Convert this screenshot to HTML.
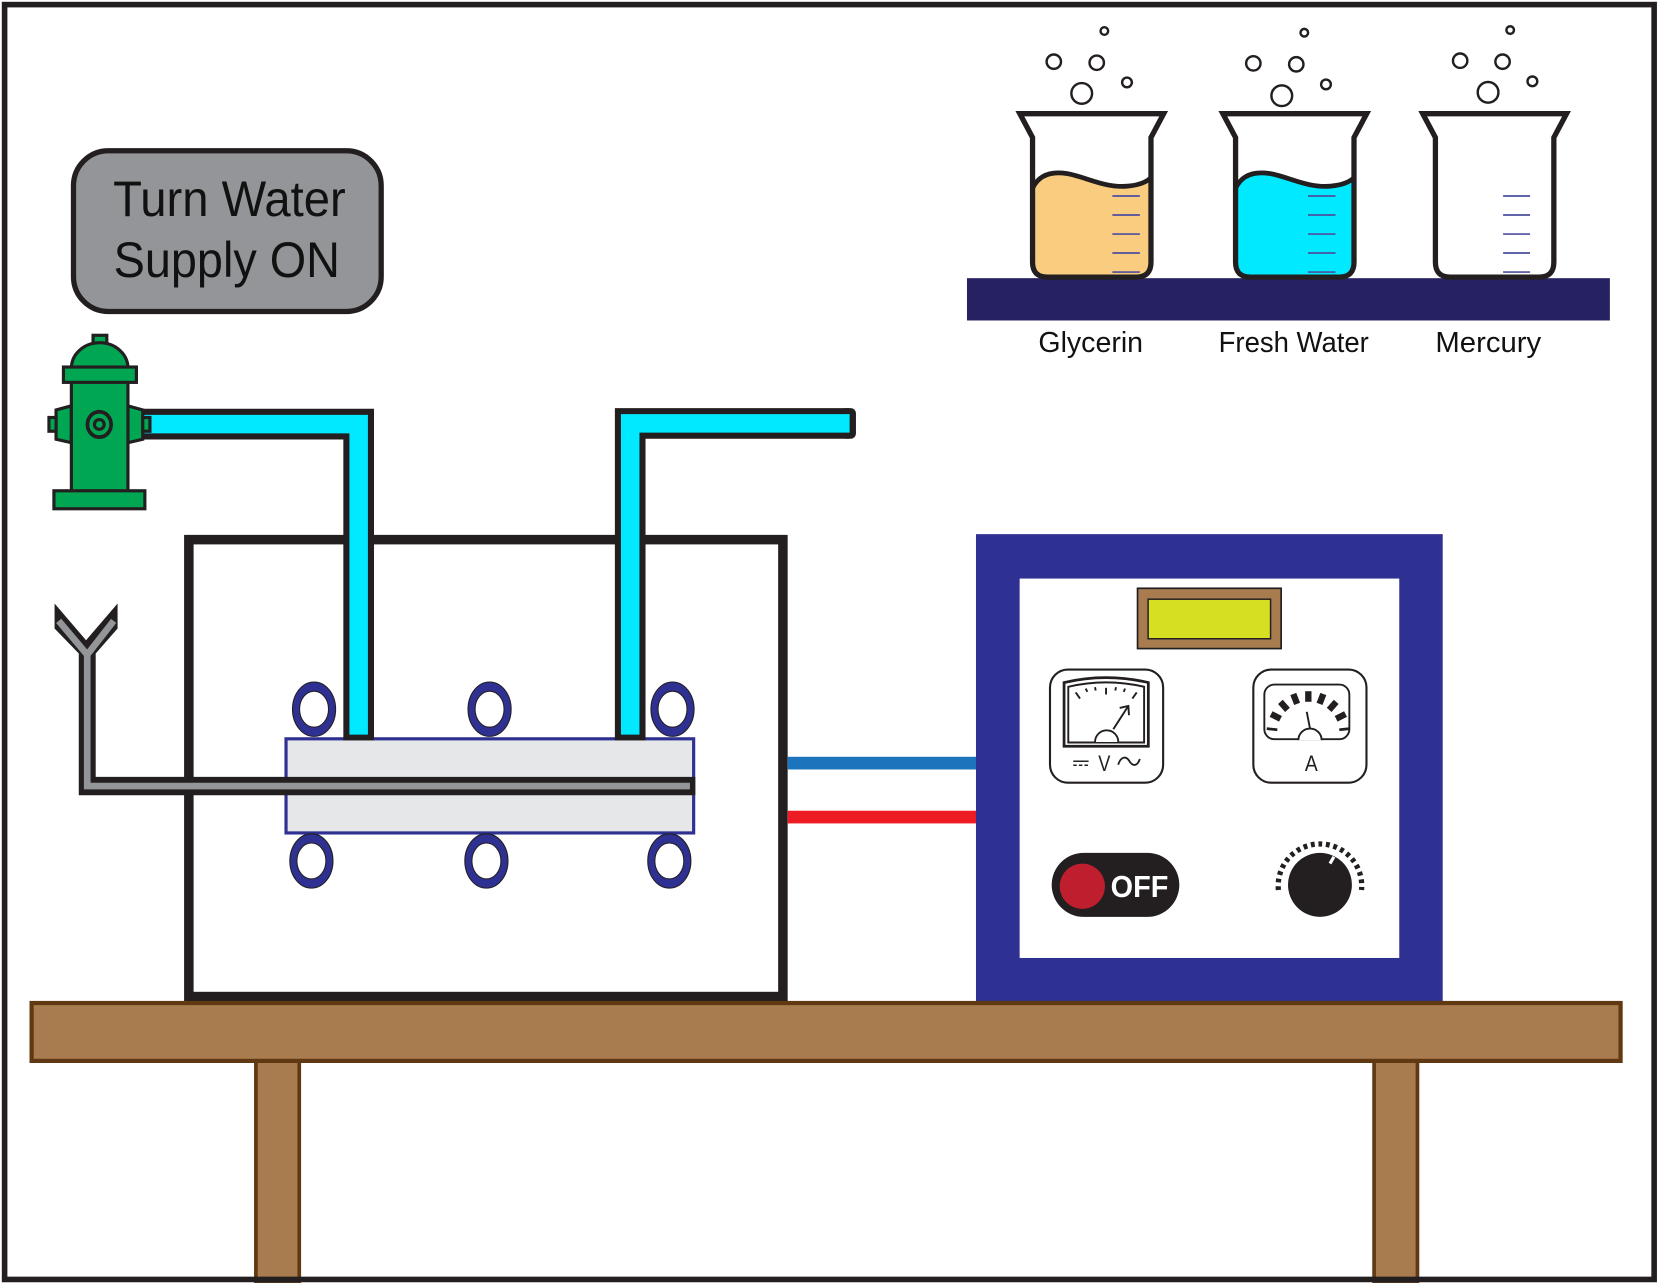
<!DOCTYPE html>
<html><head><meta charset="utf-8">
<style>
html,body{margin:0;padding:0;background:#fff;}
svg{display:block;}
text{font-family:"Liberation Sans",Arial,sans-serif;}
</style></head>
<body>
<svg width="1658" height="1283" viewBox="0 0 1568 1213" preserveAspectRatio="none" xmlns="http://www.w3.org/2000/svg">
<rect x="0" y="0" width="1568" height="1213" fill="#fff"/>

<!-- Turn Water Supply ON box -->
<rect x="69.5" y="142.5" width="291" height="152" rx="33" fill="#939598" stroke="#231f20" stroke-width="5"/>
<text x="107" y="204" font-size="47" fill="#111" textLength="220" lengthAdjust="spacingAndGlyphs">Turn Water</text>
<text x="107.5" y="262" font-size="47" fill="#111" textLength="214" lengthAdjust="spacingAndGlyphs">Supply ON</text>

<!-- Beakers shelf -->
<rect x="914.5" y="263" width="608" height="40" fill="#262262"/>

<!-- Beaker 1 -->
<g>
  <path d="M964.5,107.5 L1100.5,107.5 L1088.5,130 L1088.5,248 Q1088.5,262 1074.5,262 L990.5,262 Q976.5,262 976.5,248 L976.5,130 Z" fill="#fff"/>
  <path d="M976.5,178 C982.5,165 994.5,162 1008.5,164 C1026.5,167 1044.5,178 1066.5,176 C1076.5,175 1084.5,172 1088.5,168 L1088.5,248 Q1088.5,262 1074.5,262 L990.5,262 Q976.5,262 976.5,248 Z" fill="#f9cc7f"/>
  <path d="M976.5,178 C982.5,165 994.5,162 1008.5,164 C1026.5,167 1044.5,178 1066.5,176 C1076.5,175 1084.5,172 1088.5,168" fill="none" stroke="#231f20" stroke-width="4.5"/>
  <path d="M964.5,107.5 L1100.5,107.5 L1088.5,130 L1088.5,248 Q1088.5,262 1074.5,262 L990.5,262 Q976.5,262 976.5,248 L976.5,130 Z" fill="none" stroke="#231f20" stroke-width="5"/>
</g>
<!-- Beaker 2 -->
<g transform="translate(192,0)">
  <path d="M964.5,107.5 L1100.5,107.5 L1088.5,130 L1088.5,248 Q1088.5,262 1074.5,262 L990.5,262 Q976.5,262 976.5,248 L976.5,130 Z" fill="#fff"/>
  <path d="M976.5,178 C982.5,165 994.5,162 1008.5,164 C1026.5,167 1044.5,178 1066.5,176 C1076.5,175 1084.5,172 1088.5,168 L1088.5,248 Q1088.5,262 1074.5,262 L990.5,262 Q976.5,262 976.5,248 Z" fill="#00e9ff"/>
  <path d="M976.5,178 C982.5,165 994.5,162 1008.5,164 C1026.5,167 1044.5,178 1066.5,176 C1076.5,175 1084.5,172 1088.5,168" fill="none" stroke="#231f20" stroke-width="4.5"/>
  <path d="M964.5,107.5 L1100.5,107.5 L1088.5,130 L1088.5,248 Q1088.5,262 1074.5,262 L990.5,262 Q976.5,262 976.5,248 L976.5,130 Z" fill="none" stroke="#231f20" stroke-width="5"/>
</g>
<!-- Beaker 3 -->
<g transform="translate(381,0)">
  <path d="M964.5,107.5 L1100.5,107.5 L1088.5,130 L1088.5,248 Q1088.5,262 1074.5,262 L990.5,262 Q976.5,262 976.5,248 L976.5,130 Z" fill="#fff" stroke="#231f20" stroke-width="5"/>
</g>
<!-- graduations -->
<g stroke="#4b4ea0" stroke-width="1.6">
  <line x1="1052" y1="185.3" x2="1078" y2="185.3"/><line x1="1052" y1="203.3" x2="1078" y2="203.3"/><line x1="1052" y1="221.3" x2="1078" y2="221.3"/><line x1="1052" y1="239.2" x2="1078" y2="239.2"/><line x1="1052" y1="257.2" x2="1078" y2="257.2"/>
  <line x1="1237" y1="185.3" x2="1263" y2="185.3"/><line x1="1237" y1="203.3" x2="1263" y2="203.3"/><line x1="1237" y1="221.3" x2="1263" y2="221.3"/><line x1="1237" y1="239.2" x2="1263" y2="239.2"/><line x1="1237" y1="257.2" x2="1263" y2="257.2"/>
  <line x1="1421.5" y1="185.3" x2="1447" y2="185.3"/><line x1="1421.5" y1="203.3" x2="1447" y2="203.3"/><line x1="1421.5" y1="221.3" x2="1447" y2="221.3"/><line x1="1421.5" y1="239.2" x2="1447" y2="239.2"/><line x1="1421.5" y1="257.2" x2="1447" y2="257.2"/>
</g>
<!-- bubbles -->
<g fill="none" stroke="#231f20" stroke-width="2.3">
  <circle cx="1044.4" cy="29.3" r="3.6"/><circle cx="996.6" cy="58.3" r="6.8"/><circle cx="1037.2" cy="59.3" r="6.8"/><circle cx="1065.8" cy="77.9" r="4.6"/><circle cx="1023" cy="88.3" r="9.8"/>
  <circle cx="1233.5" cy="30.9" r="3.6"/><circle cx="1185.3" cy="59.9" r="6.8"/><circle cx="1225.9" cy="60.8" r="6.8"/><circle cx="1254" cy="79.8" r="4.6"/><circle cx="1212.2" cy="90.5" r="9.8"/>
  <circle cx="1428.2" cy="28.4" r="3.6"/><circle cx="1380.9" cy="57.4" r="6.8"/><circle cx="1421" cy="58.3" r="6.8"/><circle cx="1449.2" cy="76.9" r="4.6"/><circle cx="1407.3" cy="87.3" r="9.8"/>
</g>
<!-- labels -->
<text x="982" y="333" font-size="27" fill="#111" textLength="99" lengthAdjust="spacingAndGlyphs">Glycerin</text>
<text x="1152.5" y="333" font-size="27" fill="#111" textLength="142" lengthAdjust="spacingAndGlyphs">Fresh Water</text>
<text x="1357.5" y="333" font-size="27" fill="#111" textLength="100" lengthAdjust="spacingAndGlyphs">Mercury</text>

<!-- Container box -->
<rect x="178.6" y="510.2" width="561.8" height="432" fill="#fff" stroke="#231f20" stroke-width="9"/>

<!-- Cell -->
<rect x="270.5" y="698.5" width="385.5" height="89" fill="#e6e7e8" stroke="#2e3192" stroke-width="3"/>

<!-- Electrode rings -->
<g fill="#2e3192" stroke="#231f20" stroke-width="1">
  <ellipse cx="297" cy="670.5" rx="20.4" ry="25.7"/>
  <ellipse cx="463" cy="670.5" rx="20.4" ry="25.7"/>
  <ellipse cx="636" cy="670.5" rx="20.4" ry="25.7"/>
  <ellipse cx="294.5" cy="814" rx="20.4" ry="25.7"/>
  <ellipse cx="460" cy="814" rx="20.4" ry="25.7"/>
  <ellipse cx="633" cy="814" rx="20.4" ry="25.7"/>
</g>
<g fill="#fff" stroke="#231f20" stroke-width="1">
  <ellipse cx="297" cy="670.5" rx="13.7" ry="17"/>
  <ellipse cx="463" cy="670.5" rx="13.7" ry="17"/>
  <ellipse cx="636" cy="670.5" rx="13.7" ry="17"/>
  <ellipse cx="294.5" cy="814" rx="13.7" ry="17"/>
  <ellipse cx="460" cy="814" rx="13.7" ry="17"/>
  <ellipse cx="633" cy="814" rx="13.7" ry="17"/>
</g>

<!-- Wires -->
<rect x="745" y="715.5" width="180" height="12" fill="#1c75bc"/>
<rect x="745" y="766.5" width="180" height="12" fill="#ed1c24"/>

<!-- Pipes -->
<path d="M128,401 L339.2,401 L339.2,700" fill="none" stroke="#231f20" stroke-width="29" stroke-linejoin="miter"/>
<path d="M128,401 L339.2,401 L339.2,694.5" fill="none" stroke="#00e9ff" stroke-width="17.5" stroke-linejoin="miter"/>
<path d="M596,700 L596,400.3 L803,400.3" fill="none" stroke="#231f20" stroke-width="29" stroke-linejoin="miter"/>
<rect x="795" y="385.8" width="14.5" height="29" rx="5" fill="#231f20"/>
<path d="M596,694.5 L596,400.3 L803.5,400.3" fill="none" stroke="#00e9ff" stroke-width="17.5" stroke-linejoin="miter"/>

<!-- Gray tube with funnel -->
<polygon points="51.6,570.6 81.4,605.3 111.2,570.6 111.2,594.2 90.5,617.9 90.5,734.5 657.6,734.5 657.6,751.9 74.5,751.9 74.5,617.9 51.6,594.2" fill="#231f20"/>
<path d="M55.5,587 L82.5,619 L82.5,743.2 L652.5,743.2" fill="none" stroke="#939598" stroke-width="6.3" stroke-linejoin="miter"/>
<path d="M107.5,587 L82.5,619" fill="none" stroke="#939598" stroke-width="6.3"/>

<!-- Hydrant -->
<g stroke="#231f20" stroke-width="3" fill="#00a651">
  <polygon points="67.5,383.7 53,387.6 53,415.3 67.5,418.5"/>
  <rect x="46.3" y="394.7" width="6.7" height="13"/>
  <polygon points="121,383.7 135,387.6 135,415.3 121,418.5"/>
  <rect x="135" y="394.7" width="6.8" height="13"/>
  <rect x="67.5" y="360" width="53.5" height="104.5"/>
  <rect x="88" y="317" width="13" height="7.5"/>
  <path d="M67.5,348 A26.75 24 0 0 1 121,348 Z"/>
  <rect x="60" y="347" width="69" height="14.5"/>
  <rect x="51" y="464" width="86" height="17"/>
  <ellipse cx="93.9" cy="401.3" rx="11.2" ry="12" stroke-width="3.5"/>
  <circle cx="93.9" cy="401.3" r="4.6" stroke-width="3"/>
</g>

<!-- Power supply -->
<rect x="923" y="505" width="441.4" height="442" fill="#2e3192"/>
<rect x="964.3" y="547" width="359" height="358.7" fill="#fff"/>
<!-- LCD -->
<rect x="1075.8" y="556.2" width="135.8" height="57" fill="#a97c50" stroke="#231f20" stroke-width="1.6"/>
<rect x="1085.8" y="566.5" width="115.8" height="37.4" fill="#d7df23" stroke="#231f20" stroke-width="1.4"/>

<!-- Voltmeter -->
<rect x="993" y="633" width="107" height="107" rx="17" fill="#fff" stroke="#231f20" stroke-width="2"/>
<path d="M1006.3,705.5 L1006.3,645.3 Q1046,636 1086,645.3 L1086,705.5 Z" fill="#fff" stroke="#231f20" stroke-width="2.6"/>
<path d="M1010.3,702 L1010.3,649.3 Q1046,641 1082,649.3 L1082,702 Z" fill="#fff" stroke="#231f20" stroke-width="1.8"/>
<g stroke="#231f20" stroke-width="1.8" stroke-linecap="butt">
  <line x1="1017.3" y1="654.7" x2="1021.4" y2="660.4"/>
  <line x1="1026.8" y1="651" x2="1028.3" y2="654.1"/>
  <line x1="1035.6" y1="649.7" x2="1036.2" y2="652.9"/>
  <line x1="1046" y1="650.3" x2="1046" y2="656.6"/>
  <line x1="1055.4" y1="649.7" x2="1054.8" y2="652.9"/>
  <line x1="1064" y1="651" x2="1062.7" y2="654.1"/>
  <line x1="1075" y1="654.7" x2="1070.9" y2="660.4"/>
  <line x1="1052.9" y1="689.4" x2="1067.1" y2="667.4"/>
  <polyline points="1058.9,669.3 1067.1,667.4 1067.7,676.2" fill="none"/>
</g>
<path d="M1035.6,701.5 A11 11 0 0 1 1057.6,701.5" fill="#fff" stroke="#231f20" stroke-width="1.8"/>
<line x1="1015" y1="719.7" x2="1029.5" y2="719.7" stroke="#231f20" stroke-width="1.4"/>
<line x1="1015" y1="723.5" x2="1029.5" y2="723.5" stroke="#231f20" stroke-width="1.4" stroke-dasharray="3.3 2"/>
<text x="1038.7" y="729" font-size="21" fill="#231f20" textLength="11.5" lengthAdjust="spacingAndGlyphs">V</text>
<path d="M1057.5,723 C1060,715 1065,714.5 1068,719.5 C1071,724.5 1075.5,725 1078,717.5" fill="none" stroke="#231f20" stroke-width="1.7"/>

<!-- Ammeter -->
<rect x="1185.3" y="633" width="107" height="107" rx="17" fill="#fff" stroke="#231f20" stroke-width="2"/>
<rect x="1195.7" y="647.2" width="80.4" height="51.7" rx="9.5" fill="#fff" stroke="#231f20" stroke-width="1.8"/>
<g stroke="#231f20" stroke-linecap="butt">
  <line x1="1198" y1="688.9" x2="1208" y2="689.9" stroke-width="2.6"/>
  <line x1="1202.1" y1="675.1" x2="1211" y2="679.6" stroke-width="6"/>
  <line x1="1210.9" y1="663.6" x2="1217.6" y2="671.1" stroke-width="6"/>
  <line x1="1223.1" y1="656.1" x2="1226.7" y2="665.5" stroke-width="6"/>
  <line x1="1237.3" y1="653.5" x2="1237.3" y2="663.5" stroke-width="6"/>
  <line x1="1251.5" y1="656.1" x2="1247.9" y2="665.5" stroke-width="6"/>
  <line x1="1263.7" y1="663.6" x2="1257" y2="671.1" stroke-width="6"/>
  <line x1="1272.5" y1="675.1" x2="1263.6" y2="679.6" stroke-width="6"/>
  <line x1="1276.6" y1="688.9" x2="1266.6" y2="689.9" stroke-width="2.6"/>
  <line x1="1238.9" y1="688.8" x2="1235.8" y2="673" stroke-width="1.8"/>
</g>
<path d="M1227.9,699.8 A11 11 0 0 1 1249.9,699.8" fill="#fff" stroke="#231f20" stroke-width="1.8"/>
<text x="1234" y="729" font-size="21" fill="#231f20" textLength="12.2" lengthAdjust="spacingAndGlyphs">A</text>

<!-- OFF switch -->
<rect x="994.6" y="806.3" width="120.7" height="60.6" rx="30.3" fill="#231f20"/>
<circle cx="1023.6" cy="837.9" r="21.4" fill="#be1e2d"/>
<text x="1050.4" y="848" font-size="29" font-weight="bold" fill="#fff" textLength="54.5" lengthAdjust="spacingAndGlyphs">OFF</text>

<!-- Knob -->
<path d="M1209,841.4 A39.5 39.5 0 1 1 1287.6,841.4" fill="none" stroke="#231f20" stroke-width="5" stroke-dasharray="3.6 3.56"/>
<circle cx="1248.3" cy="836.6" r="30.2" fill="#231f20"/>
<line x1="1257.8" y1="816.4" x2="1261.5" y2="810.1" stroke="#fff" stroke-width="3"/>

<!-- Table -->
<rect x="242" y="1000" width="41" height="212" fill="#a97c50" stroke="#603913" stroke-width="3.5"/>
<rect x="1299.5" y="1000" width="41" height="212" fill="#a97c50" stroke="#603913" stroke-width="3.5"/>
<rect x="29.9" y="948.3" width="1502.7" height="54.7" fill="#a97c50" stroke="#603913" stroke-width="4"/>

<!-- Outer border -->
<rect x="4.35" y="4.35" width="1560" height="1205.3" fill="none" stroke="#231f20" stroke-width="5.3"/>
</svg>
</body>
</html>
